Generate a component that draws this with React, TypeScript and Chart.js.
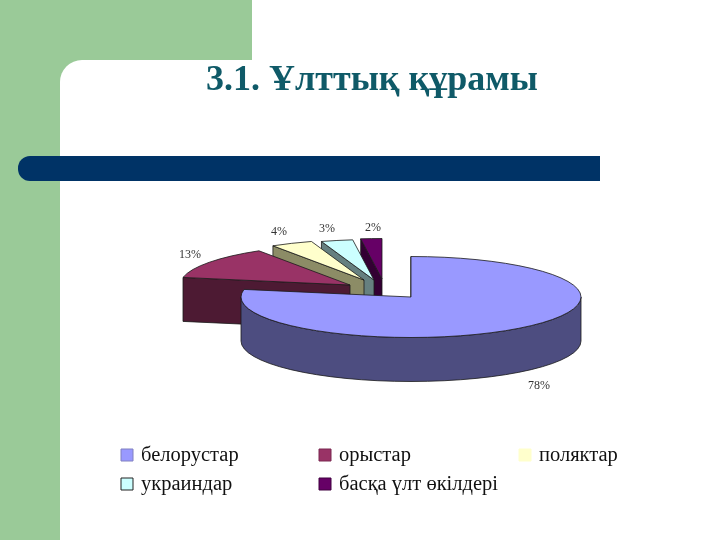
import React, { useEffect, useRef } from "react";
import { Chart, registerables } from "chart.js";

Chart.register(...registerables);

const categories = ["белорустар", "орыстар", "поляктар", "украиндар", "басқа үлт өкілдері"];
const shares = [78, 13, 4, 3, 2];
const titleText = "3.1. Ұлттық құрамы";

const topColors = ["#9999ff", "#993366", "#ffffcc", "#ccffff", "#660066"];
const sideColors = ["#4d4d80", "#4d1a33", "#8c8c66", "#668080", "#330033"];
const apexX = [411, 350, 364, 374, 382];
const apexY = [297, 285, 280, 280, 279];
const labelX = [539, 190, 279, 327, 373];
const labelY = [386, 255, 232, 229, 228];
const legendX = [127, 325, 525, 127, 325];
const legendY = [455, 455, 455, 484, 484];
const legendBorder = ["#8080c0", "#7a2850", "#ffffcc", "#222222", "#400040"];

const RX = 170;
const RY = 40.5;
const DEPTH = 44;
const FONT = '"Liberation Serif", serif';

const pie3d = {
  id: "pie3d",
  beforeDatasetsDraw() {
    return false;
  },
  afterDraw(chart: any) {
    const ctx = chart.ctx;
    const arcs = chart.getDatasetMeta(0).data;
    ctx.save();
    ctx.lineWidth = 0.8;
    ctx.strokeStyle = "#1a1a1a";
    ctx.lineJoin = "round";
    for (let i = arcs.length - 1; i >= 0; i--) {
      const { startAngle: a0, endAngle: a1 } = arcs[i];
      const cx = apexX[i];
      const cy = apexY[i];
      const ex = (t: number) => cx + RX * Math.cos(t);
      const ey = (t: number) => cy + RY * Math.sin(t);
      ctx.fillStyle = sideColors[i];
      const radial = (t: number) => {
        ctx.beginPath();
        ctx.moveTo(cx, cy);
        ctx.lineTo(ex(t), ey(t));
        ctx.lineTo(ex(t), ey(t) + DEPTH);
        ctx.lineTo(cx, cy + DEPTH);
        ctx.closePath();
        ctx.fill();
        ctx.stroke();
      };
      if (Math.sin(a0) < -1e-6) radial(a0);
      if (Math.sin(a1) > 1e-6) radial(a1);
      const s0 = Math.max(a0, 0);
      const s1 = Math.min(a1, Math.PI);
      if (s1 > s0) {
        ctx.beginPath();
        ctx.ellipse(cx, cy, RX, RY, 0, s0, s1);
        ctx.lineTo(ex(s1), ey(s1) + DEPTH);
        ctx.ellipse(cx, cy + DEPTH, RX, RY, 0, s1, s0, true);
        ctx.closePath();
        ctx.fill();
        ctx.stroke();
      }
      ctx.fillStyle = topColors[i];
      ctx.beginPath();
      ctx.moveTo(cx, cy);
      ctx.ellipse(cx, cy, RX, RY, 0, a0, a1);
      ctx.closePath();
      ctx.fill();
      ctx.stroke();
    }

    ctx.fillStyle = "#333333";
    ctx.font = `12px ${FONT}`;
    ctx.textAlign = "center";
    ctx.textBaseline = "middle";
    shares.forEach((v, i) => ctx.fillText(`${v}%`, labelX[i], labelY[i]));

    ctx.textAlign = "left";
    ctx.font = `20.5px ${FONT}`;
    categories.forEach((name, i) => {
      const x = legendX[i];
      const y = legendY[i];
      ctx.fillStyle = topColors[i];
      ctx.fillRect(x - 6, y - 6, 12, 12);
      ctx.strokeStyle = legendBorder[i];
      ctx.lineWidth = 1;
      ctx.strokeRect(x - 6, y - 6, 12, 12);
      ctx.fillStyle = "#111111";
      ctx.fillText(name, x + 14, y + 1);
    });
    ctx.restore();
  },
};

export default function App() {
  const ref = useRef<HTMLCanvasElement>(null);
  useEffect(() => {
    const chart = new Chart(ref.current as HTMLCanvasElement, {
      type: "pie",
      data: {
        labels: categories,
        datasets: [{ data: shares, backgroundColor: topColors }],
      },
      options: {
        responsive: false,
        animation: false,
        devicePixelRatio: 1,
        layout: { padding: { left: 24, top: 59, bottom: 150 } },
        plugins: {
          legend: { display: false },
          tooltip: { enabled: false },
          title: {
            display: true,
            text: titleText,
            color: "#0f5a68",
            font: { family: FONT, size: 36, weight: "bold" },
            padding: { top: 0, bottom: 10 },
          },
        },
      },
      plugins: [pie3d],
    } as any);
    return () => chart.destroy();
  }, []);
  return (
    <div style={{ position: "fixed", left: 0, top: 0, width: 720, height: 540, background: "#fff", overflow: "hidden" }}>
      <div style={{ position: "absolute", left: 0, top: 0, width: 252, height: 540, background: "#9aca98" }} />
      <div style={{ position: "absolute", left: 60, top: 60, width: 660, height: 480, background: "#fff", borderTopLeftRadius: 22 }} />
      <div style={{ position: "absolute", left: 18, top: 156, width: 582, height: 25, background: "#003366", borderRadius: "12px 0 0 12px" }} />
      <canvas ref={ref} width={720} height={540} style={{ position: "absolute", left: 0, top: 0 }} />
    </div>
  );
}
